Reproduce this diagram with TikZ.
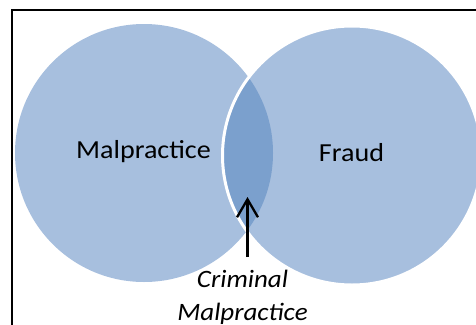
\documentclass[tikz,border=0pt]{standalone}
\usepackage{fontspec}
\setmainfont{Carlito}
\newfontfamily\venfont[FakeStretch=1.08]{Carlito}
\usetikzlibrary{arrows.meta}

\definecolor{setblue}{HTML}{A7BFDE}
\definecolor{lensblue}{HTML}{7BA0CD}

\begin{document}
\begin{tikzpicture}[x = 1pt, y = -1pt,
	setlabel/.style = {anchor = base, inner sep = 0pt, font = \venfont\fontsize{26}{30}\selectfont},
	pointer/.style = {-{Straight Barb[length = 18pt, width = 21pt]}, line width = 2.3pt, line join = miter}]

	\useasboundingbox (0, 0) rectangle (476, 324);

	% Frame

	\draw [line width = 2pt] (12, 10) rectangle (500, 350);

	% Sets

	\fill [setblue] (144, 153) circle (129);
	\fill [setblue] (352, 155.5) circle (129.5);

	% Overlap

	\begin{scope}
		\clip (144, 153) circle (129);
		\fill [lensblue] (352, 155.5) circle (129.5);
	\end{scope}
	\draw [white, line width = 3pt] (352, 155.5) circle (129.5);

	% Labels

	\node [setlabel] (malp) at (143.5, 158.5) {Malpractice};
	\node [setlabel] (fraud) at (351.5, 161.5) {Fraud};
	\node [setlabel, align = center, font = \venfont\itshape\fontsize{25}{33}\selectfont] (crim) at (242.5, 320) {Criminal\\Malpractice};

	% Arrow into the overlap

	\coordinate (tail) at (247.5, 257);
	\coordinate (tip) at (247.5, 197);
	\draw [pointer] (tail) -- (tip);

\end{tikzpicture}
\end{document}
